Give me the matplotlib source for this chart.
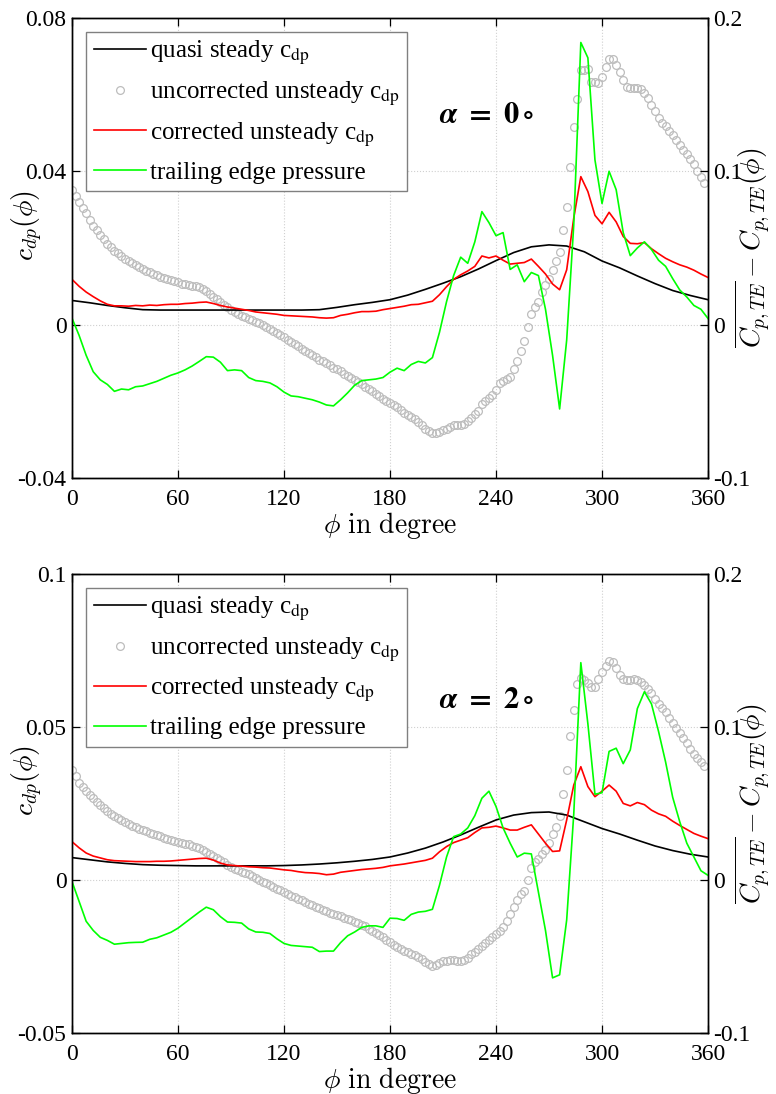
import numpy as np
import matplotlib
matplotlib.use("Agg")
import matplotlib.pyplot as plt
from matplotlib.lines import Line2D

plt.rcParams['font.family'] = ['Liberation Serif', 'DejaVu Serif']
plt.rcParams['mathtext.fontset'] = 'stix'
plt.rcParams['axes.unicode_minus'] = False

# phase angle grids (degree)
phi_qs = np.arange(0, 361, 10)     # quasi steady model
phi_unc = np.arange(0, 360, 2)     # uncorrected measurement points
phi_cor = np.arange(0, 361, 4)     # corrected c_dp and trailing edge pressure

# ---------------- alpha = 0 deg ----------------
qs_a0 = [0.0063, 0.0057, 0.0050, 0.0044, 0.0039, 0.0038, 0.0038, 0.0038, 0.0038, 0.0038,
         0.0038, 0.0038, 0.0038, 0.0038, 0.0039, 0.0045, 0.0052, 0.0058, 0.0065, 0.0077,
         0.0092, 0.0108, 0.0125, 0.0145, 0.0167, 0.0188, 0.0203, 0.0208, 0.0205, 0.0190,
         0.0166, 0.0148, 0.0127, 0.0107, 0.0089, 0.0076, 0.0065]

unc_a0 = [0.0351, 0.0335, 0.0320, 0.0305, 0.0290, 0.0272, 0.0258, 0.0246, 0.0234, 0.0224,
          0.0211, 0.0202, 0.0193, 0.0186, 0.0179, 0.0172, 0.0166, 0.0161, 0.0155, 0.0150,
          0.0146, 0.0141, 0.0137, 0.0133, 0.0129, 0.0125, 0.0122, 0.0119, 0.0116, 0.0113,
          0.0110, 0.0107, 0.0105, 0.0103, 0.0102, 0.0101, 0.0099, 0.0094, 0.0087, 0.0079,
          0.0073, 0.0066, 0.0058, 0.0051, 0.0045, 0.0039, 0.0033, 0.0027, 0.0023, 0.0019,
          0.0015, 0.0011, 0.0007, 0.0004, -0.0001, -0.0006, -0.0012, -0.0017, -0.0023, -0.0028,
          -0.0033, -0.0039, -0.0045, -0.0051, -0.0057, -0.0063, -0.0068, -0.0074, -0.0080, -0.0085,
          -0.0091, -0.0096, -0.0101, -0.0106, -0.0112, -0.0117, -0.0122, -0.0128, -0.0134, -0.0139,
          -0.0145, -0.0150, -0.0156, -0.0162, -0.0168, -0.0174, -0.0180, -0.0186, -0.0193, -0.0198,
          -0.0204, -0.0210, -0.0216, -0.0223, -0.0230, -0.0236, -0.0241, -0.0247, -0.0254, -0.0263,
          -0.0272, -0.0278, -0.0282, -0.0283, -0.0280, -0.0276, -0.0271, -0.0266, -0.0263, -0.0262,
          -0.0263, -0.0258, -0.0251, -0.0244, -0.0234, -0.0225, -0.0207, -0.0198, -0.0192, -0.0184,
          -0.0170, -0.0153, -0.0147, -0.0143, -0.0136, -0.0115, -0.0094, -0.0068, -0.0044, -0.0005,
          0.0028, 0.0047, 0.0060, 0.0085, 0.0104, 0.0120, 0.0143, 0.0165, 0.0190, 0.0247,
          0.0308, 0.0410, 0.0515, 0.0589, 0.0664, 0.0664, 0.0666, 0.0634, 0.0632, 0.0630,
          0.0647, 0.0673, 0.0692, 0.0692, 0.0678, 0.0660, 0.0638, 0.0621, 0.0617, 0.0616,
          0.0616, 0.0615, 0.0604, 0.0590, 0.0572, 0.0557, 0.0540, 0.0527, 0.0517, 0.0505,
          0.0495, 0.0482, 0.0469, 0.0456, 0.0444, 0.0432, 0.0420, 0.0400, 0.0385, 0.0369]

cor_a0 = [0.0118, 0.0100, 0.0085, 0.0073, 0.0062, 0.0053, 0.0049, 0.0049, 0.0048, 0.0050,
          0.0049, 0.0051, 0.0050, 0.0052, 0.0053, 0.0053, 0.0055, 0.0056, 0.0058, 0.0059,
          0.0055, 0.0050, 0.0046, 0.0043, 0.0040, 0.0037, 0.0033, 0.0031, 0.0029, 0.0027,
          0.0024, 0.0023, 0.0022, 0.0021, 0.0020, 0.0018, 0.0017, 0.0018, 0.0024, 0.0027,
          0.0031, 0.0034, 0.0034, 0.0035, 0.0039, 0.0042, 0.0045, 0.0048, 0.0052, 0.0053,
          0.0057, 0.0061, 0.0078, 0.0099, 0.0118, 0.0130, 0.0140, 0.0152, 0.0179, 0.0174,
          0.0179, 0.0168, 0.0158, 0.0160, 0.0162, 0.0171, 0.0152, 0.0132, 0.0106, 0.0091,
          0.0143, 0.0278, 0.0386, 0.0347, 0.0285, 0.0263, 0.0293, 0.0268, 0.0230, 0.0212,
          0.0211, 0.0214, 0.0198, 0.0185, 0.0173, 0.0164, 0.0156, 0.0150, 0.0142, 0.0132,
          0.0123]

te_a0 = [0.0042, -0.0070, -0.0200, -0.0307, -0.0360, -0.0390, -0.0435, -0.0420, -0.0425, -0.0405,
         -0.0400, -0.0385, -0.0370, -0.0350, -0.0330, -0.0315, -0.0295, -0.0270, -0.0240, -0.0209,
         -0.0212, -0.0245, -0.0300, -0.0295, -0.0300, -0.0345, -0.0365, -0.0370, -0.0380, -0.0405,
         -0.0440, -0.0465, -0.0470, -0.0480, -0.0490, -0.0505, -0.0524, -0.0530, -0.0490, -0.0445,
         -0.0395, -0.0365, -0.0360, -0.0355, -0.0345, -0.0310, -0.0284, -0.0300, -0.0260, -0.0240,
         -0.0250, -0.0215, -0.0050, 0.0150, 0.0320, 0.0440, 0.0400, 0.0540, 0.0737, 0.0665,
         0.0580, 0.0600, 0.0360, 0.0390, 0.0280, 0.0340, 0.0320, 0.0100, -0.0200, -0.0550,
         -0.0100, 0.0650, 0.1840, 0.1740, 0.1074, 0.0790, 0.1000, 0.0880, 0.0600, 0.0450,
         0.0500, 0.0540, 0.0490, 0.0420, 0.0380, 0.0300, 0.0226, 0.0180, 0.0125, 0.0100,
         0.0040]

# ---------------- alpha = 2 deg ----------------
qs_a2 = [0.0073, 0.0066, 0.0059, 0.0054, 0.0050, 0.0048, 0.0047, 0.0046, 0.0046, 0.0046,
         0.0046, 0.0046, 0.0047, 0.0049, 0.0052, 0.0056, 0.0061, 0.0067, 0.0075, 0.0088,
         0.0104, 0.0124, 0.0147, 0.0172, 0.0196, 0.0212, 0.0220, 0.0222, 0.0212, 0.0190,
         0.0168, 0.0150, 0.0130, 0.0111, 0.0096, 0.0084, 0.0075]

unc_a2 = [0.0359, 0.0340, 0.0318, 0.0304, 0.0292, 0.0278, 0.0267, 0.0256, 0.0245, 0.0235,
          0.0225, 0.0216, 0.0208, 0.0201, 0.0195, 0.0188, 0.0182, 0.0177, 0.0172, 0.0167,
          0.0163, 0.0159, 0.0155, 0.0151, 0.0146, 0.0142, 0.0138, 0.0135, 0.0131, 0.0128,
          0.0125, 0.0122, 0.0119, 0.0116, 0.0112, 0.0108, 0.0103, 0.0098, 0.0092, 0.0085,
          0.0078, 0.0072, 0.0065, 0.0057, 0.0050, 0.0043, 0.0036, 0.0031, 0.0027, 0.0023,
          0.0019, 0.0012, 0.0006, 0.0000, -0.0006, -0.0011, -0.0017, -0.0023, -0.0028, -0.0034,
          -0.0039, -0.0045, -0.0051, -0.0056, -0.0062, -0.0067, -0.0073, -0.0078, -0.0083, -0.0088,
          -0.0093, -0.0098, -0.0103, -0.0107, -0.0111, -0.0115, -0.0119, -0.0123, -0.0127, -0.0131,
          -0.0136, -0.0140, -0.0146, -0.0152, -0.0159, -0.0166, -0.0173, -0.0180, -0.0188, -0.0196,
          -0.0204, -0.0212, -0.0219, -0.0226, -0.0232, -0.0237, -0.0241, -0.0245, -0.0251, -0.0259,
          -0.0268, -0.0276, -0.0282, -0.0278, -0.0272, -0.0266, -0.0264, -0.0263, -0.0263, -0.0264,
          -0.0264, -0.0261, -0.0254, -0.0243, -0.0235, -0.0225, -0.0215, -0.0205, -0.0196, -0.0186,
          -0.0177, -0.0166, -0.0153, -0.0135, -0.0112, -0.0090, -0.0065, -0.0045, -0.0035, 0.0000,
          0.0040, 0.0058, 0.0070, 0.0085, 0.0098, 0.0120, 0.0150, 0.0172, 0.0210, 0.0280,
          0.0360, 0.0470, 0.0555, 0.0640, 0.0659, 0.0653, 0.0642, 0.0631, 0.0632, 0.0655,
          0.0678, 0.0700, 0.0714, 0.0712, 0.0692, 0.0670, 0.0658, 0.0654, 0.0654, 0.0658,
          0.0654, 0.0646, 0.0636, 0.0625, 0.0610, 0.0592, 0.0576, 0.0562, 0.0548, 0.0530,
          0.0512, 0.0496, 0.0480, 0.0463, 0.0446, 0.0427, 0.0413, 0.0398, 0.0385, 0.0372]

cor_a2 = [0.0125, 0.0105, 0.0088, 0.0078, 0.0072, 0.0066, 0.0063, 0.0062, 0.0061, 0.0060,
          0.0060, 0.0060, 0.0061, 0.0061, 0.0062, 0.0064, 0.0066, 0.0068, 0.0070, 0.0071,
          0.0065, 0.0055, 0.0049, 0.0047, 0.0045, 0.0043, 0.0042, 0.0040, 0.0039, 0.0036,
          0.0033, 0.0031, 0.0027, 0.0024, 0.0023, 0.0021, 0.0017, 0.0019, 0.0025, 0.0028,
          0.0031, 0.0034, 0.0036, 0.0038, 0.0041, 0.0046, 0.0049, 0.0052, 0.0056, 0.0060,
          0.0064, 0.0071, 0.0092, 0.0109, 0.0122, 0.0130, 0.0138, 0.0155, 0.0170, 0.0172,
          0.0176, 0.0170, 0.0163, 0.0163, 0.0172, 0.0180, 0.0150, 0.0120, 0.0093, 0.0095,
          0.0196, 0.0310, 0.0370, 0.0305, 0.0272, 0.0290, 0.0310, 0.0290, 0.0250, 0.0242,
          0.0253, 0.0246, 0.0228, 0.0216, 0.0208, 0.0192, 0.0178, 0.0165, 0.0152, 0.0143,
          0.0135]

te_a2 = [-0.0011, -0.0140, -0.0270, -0.0330, -0.0375, -0.0395, -0.0420, -0.0415, -0.0410, -0.0408,
         -0.0407, -0.0388, -0.0378, -0.0360, -0.0342, -0.0315, -0.0280, -0.0245, -0.0210, -0.0178,
         -0.0195, -0.0240, -0.0275, -0.0277, -0.0282, -0.0320, -0.0340, -0.0342, -0.0350, -0.0385,
         -0.0415, -0.0428, -0.0432, -0.0436, -0.0440, -0.0468, -0.0465, -0.0465, -0.0410, -0.0365,
         -0.0340, -0.0310, -0.0300, -0.0300, -0.0310, -0.0250, -0.0252, -0.0264, -0.0225, -0.0210,
         -0.0205, -0.0192, -0.0035, 0.0150, 0.0283, 0.0300, 0.0340, 0.0420, 0.0534, 0.0580,
         0.0480, 0.0340, 0.0240, 0.0150, 0.0175, 0.0170, -0.0080, -0.0330, -0.0640, -0.0620,
         -0.0261, 0.0430, 0.1420, 0.1020, 0.0560, 0.0570, 0.0840, 0.0861, 0.0760, 0.0850,
         0.1120, 0.1230, 0.1150, 0.0970, 0.0770, 0.0540, 0.0380, 0.0240, 0.0150, 0.0060,
         0.0030]

x_ticks = [0, 60, 120, 180, 240, 300, 360]
right_ticks = [-0.1, 0, 0.1, 0.2]
right_labels = ['-0.1', '0', '0.1', '0.2']
left_ticks_a0 = [-0.04, 0, 0.04, 0.08]
left_labels_a0 = ['-0.04', '0', '0.04', '0.08']
left_ticks_a2 = [-0.05, 0, 0.05, 0.1]
left_labels_a2 = ['-0.05', '0', '0.05', '0.1']

labels = ['quasi steady c$_{\\mathrm{dp}}$',
          'uncorrected unsteady c$_{\\mathrm{dp}}$',
          'corrected unsteady c$_{\\mathrm{dp}}$',
          'trailing edge pressure']

TICK_FS = 17
LEG_FS = 18
LABEL_FS = 20
LW = 1.2


def draw_panel(rect, qs, unc, cor, te, lticks, llabels, alpha_txt, alpha_y, ylab_y):
    ax = fig.add_axes(rect)
    ax2 = ax.twinx()

    ax.plot(phi_unc, unc, 'o', mfc='none', mec='#bdbdbd', ms=5.6, mew=0.9, zorder=2)
    ax.plot(phi_qs, qs, '-', color='k', lw=LW, zorder=3)
    ax.plot(phi_cor, cor, '-', color='#ff0000', lw=LW, zorder=4)
    ax2.plot(phi_cor, te, '-', color='#00ff00', lw=LW)

    ax.set_xlim(0, 360)
    ax.set_ylim(lticks[0], lticks[-1])
    ax2.set_ylim(right_ticks[0], right_ticks[-1])

    ax.set_xticks(x_ticks)
    ax.set_xticklabels([str(t) for t in x_ticks])
    ax.set_yticks(lticks)
    ax.set_yticklabels(llabels)
    ax2.set_yticks(right_ticks)
    ax2.set_yticklabels(right_labels)

    ax.tick_params(direction='in', top=True, length=6, width=0.9,
                   labelsize=TICK_FS, pad=4)
    ax.tick_params(axis='x', pad=8)
    ax2.tick_params(direction='in', length=6, width=0.9, labelsize=TICK_FS, pad=4)
    ax.grid(True, linestyle=':', color='#d0d0d0', lw=0.8)
    for a in (ax, ax2):
        for s in a.spines.values():
            s.set_linewidth(1.0)

    ax.set_xlabel(r'$\phi\ \mathrm{in\ degree}$', fontsize=LABEL_FS,
                  math_fontfamily='cm', labelpad=0)
    ax.set_ylabel(r'$c_{dp}(\phi)$', fontsize=LABEL_FS, math_fontfamily='cm')
    ax.yaxis.set_label_coords(-0.043, ylab_y)
    ax2.set_ylabel(r'$\overline{C_{p,TE}} - C_{p,TE}(\phi)$', fontsize=LABEL_FS,
                   math_fontfamily='cm')
    ax2.yaxis.set_label_coords(1.038, 0.5)

    ax2.text(0.652, alpha_y, alpha_txt, transform=ax.transAxes, fontsize=22,
             ha='center', va='center', math_fontfamily='stix')

    handles = [Line2D([], [], color='k', lw=LW),
               Line2D([], [], ls='none', marker='o', mfc='none', mec='#bdbdbd', ms=5.6, mew=0.9),
               Line2D([], [], color='#ff0000', lw=LW),
               Line2D([], [], color='#00ff00', lw=LW)]
    leg = ax2.legend(handles, labels, loc='upper left', bbox_to_anchor=(0.022, 0.97),
                     fontsize=LEG_FS, frameon=True, fancybox=False, framealpha=1,
                     edgecolor='#808080', handlelength=2.1, handletextpad=0.15,
                     labelspacing=0.5, borderpad=0.3, borderaxespad=0)
    leg.get_frame().set_linewidth(1.0)
    return ax, ax2


fig = plt.figure(figsize=(7.76, 10.94), dpi=100)

draw_panel([0.0928, 0.5631, 0.8196, 0.4205], qs_a0, unc_a0, cor_a0, te_a0,
           left_ticks_a0, left_labels_a0,
           r'$\mathbfit{\alpha}\ \mathbf{=\ 0}\circ$', 0.789, 0.55)
draw_panel([0.0928, 0.0558, 0.8196, 0.4196], qs_a2, unc_a2, cor_a2, te_a2,
           left_ticks_a2, left_labels_a2,
           r'$\mathbfit{\alpha}\ \mathbf{=\ 2}\circ$', 0.725, 0.55)

fig.savefig('out.png', dpi=100)
